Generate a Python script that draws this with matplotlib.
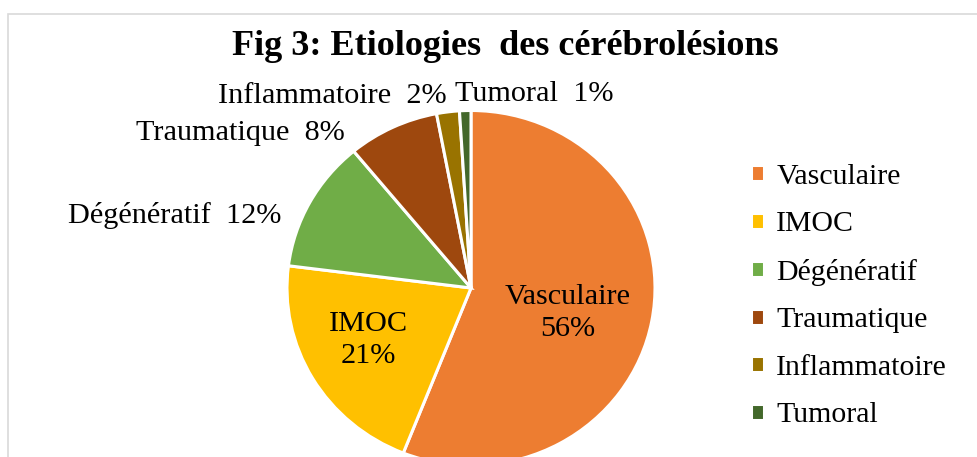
import matplotlib
matplotlib.use("Agg")
import matplotlib.pyplot as plt

categories = ["Vasculaire", "IMOC", "Dégénératif", "Traumatique", "Inflammatoire", "Tumoral"]
values = [56, 21, 12, 8, 2, 1]
colors = ["#ED7D31", "#FFC000", "#70AD47", "#9E480E", "#997300", "#43682B"]
title = "Fig 3: Etiologies  des cérébrolésions"

plt.rcParams['font.family'] = ['Liberation Serif', 'DejaVu Serif']

W, H = 978, 457
S = 184 / 177.5          # the original pie is a little wider than tall


def py(y_img):
    # image pixel row -> data y
    return (H - y_img) * S


fig = plt.figure(figsize=(W / 100, H / 100), dpi=100)
ax = fig.add_axes([0, 0, 1, 1])

cx, cy, R = 471, py(288), 184
wedges, _ = ax.pie(values, colors=colors, startangle=90, counterclock=False,
                   center=(cx, cy), radius=R, frame=True,
                   wedgeprops=dict(edgecolor="white", linewidth=2.2))
ax.set_xlim(0, W)
ax.set_ylim(0, H * S)
ax.set_aspect('auto')
ax.axis('off')

# chart frame (cropped at right and bottom)
ax.add_patch(plt.Rectangle((7.5, py(480)), W + 20, py(14) - py(480), fill=False,
                           edgecolor="#d9d9d9", linewidth=1.2))

fs = 21.8
# inside labels (image-pixel anchors)
inside = {0: (568, 313), 1: (368, 340)}
for i, (x, y) in inside.items():
    ax.text(x, py(y), f"{categories[i]}\n{values[i]}%", ha="center", va="center",
            fontsize=fs, linespacing=1.3)

# outside labels (image-pixel anchors)
outside = {2: (281, 215, "right"), 3: (345, 133, "right"),
           4: (447, 96, "right"), 5: (455, 94, "left")}
for i, (x, y, ha) in outside.items():
    ax.text(x, py(y), f"{categories[i]}  {values[i]}%", ha=ha, va="center",
            fontsize=fs)

ax.text(505, py(46), title, ha="center", va="center", fontsize=26,
        fontweight="bold")

leg = ax.legend(wedges, categories, loc="upper left",
                bbox_to_anchor=(724 / W, 1 - 137 / H), frameon=False,
                fontsize=21.5, handlelength=0.45, handleheight=0.45,
                handletextpad=0.4, labelspacing=0.72)

fig.savefig("out.png", dpi=100)
